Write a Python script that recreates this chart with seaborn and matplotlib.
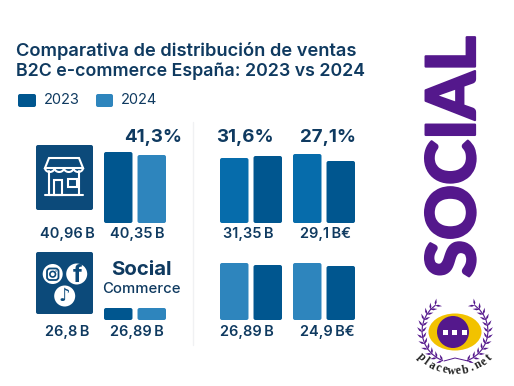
import numpy as np
import pandas as pd
import seaborn as sns
import matplotlib
matplotlib.use('Agg')
import matplotlib.pyplot as plt
import matplotlib.patheffects as pe
from matplotlib.patches import FancyBboxPatch, Rectangle, Circle, Ellipse, Polygon

sns.set_theme(style='white')
plt.rcParams['font.family'] = ['Inter', 'Liberation Sans', 'DejaVu Sans']

W, H = 514, 386

title_lines = ['Comparativa de distribución de ventas', 'B2C e-commerce España: 2023 vs 2024']
years = ['2023', '2024']

# bar heights (the bars are not to scale with their labels)
tienda = [71, 68]
social_mini = [12, 12]
panel_a = [65, 67]
panel_b = [69, 62]
panel_c = [57, 55]
panel_d = [57, 54]

pct_labels = ['41,3%', '31,6%', '27,1%']
top_labels = ['40,96\u2009B', '40,35\u2009B', '31,35\u2009B', '29,1\u2009B€']
bottom_labels = ['26,8\u2009B', '26,89\u2009B', '26,89\u2009B', '24,9\u2009B€']

DARK = '#00568f'
LIGHT = '#2e85bd'
MID = '#066cab'
NAVY = '#0f3a60'
BOX = '#0c4a7a'
PURPLE = '#54188c'
YELLOW = '#f2c200'

fig = plt.figure(figsize=(W / 100, H / 100), dpi=100, facecolor='white')


def draw_group(vals, left, bottom, colors):
    # axes is 62 px wide and 100 px tall, one y unit = one pixel
    ax = fig.add_axes([left / W, 1 - bottom / H, 62 / W, 100 / H])
    df = pd.DataFrame({'anio': years, 'valor': vals})
    sns.barplot(data=df, x='anio', y='valor', hue='anio', palette=colors, legend=False,
                width=0.85, saturation=1, ax=ax)
    ax.set_xlim(-0.425, 1.425)
    ax.set_ylim(0, 100)
    ax.axis('off')
    ax.patch.set_alpha(0)
    for bar in list(ax.patches):
        x, w, h = bar.get_x(), bar.get_width(), bar.get_height()
        round_bar = FancyBboxPatch((x, 0), w, h, boxstyle='round,pad=0,rounding_size=0.06',
                                   mutation_aspect=33.5, fc=bar.get_facecolor(), ec='none')
        bar.remove()
        ax.add_patch(round_bar)


draw_group(tienda, 104, 223, [DARK, LIGHT])
draw_group(social_mini, 104, 320, [DARK, LIGHT])
draw_group(panel_a, 220, 223, [MID, DARK])
draw_group(panel_b, 293, 223, [MID, DARK])
draw_group(panel_c, 220, 320, [LIGHT, DARK])
draw_group(panel_d, 293, 320, [LIGHT, DARK])

# pixel overlay for text, icons and logo
ov = fig.add_axes([0, 0, 1, 1], zorder=5)
ov.set_xlim(0, W)
ov.set_ylim(H, 0)
ov.axis('off')
ov.patch.set_alpha(0)

ov.text(16, 51, title_lines[0], fontsize=13.2, fontweight='semibold', color=NAVY, va='center')
ov.text(16, 71.5, title_lines[1], fontsize=12.8, fontweight='semibold', color=NAVY, va='center')

# legend
ov.add_patch(FancyBboxPatch((18, 94), 18, 13, boxstyle='round,pad=0,rounding_size=2', fc=DARK, ec='none'))
ov.add_patch(FancyBboxPatch((96, 94), 17, 13, boxstyle='round,pad=0,rounding_size=2', fc=LIGHT, ec='none'))
ov.text(44, 100.5, years[0], fontsize=10.5, color=NAVY, va='center')
ov.text(121, 100.5, years[1], fontsize=10.5, color=NAVY, va='center')

# separator
ov.plot([193, 193], [122, 345], color='#f0f1f3', lw=1)

# labels
for x, s in zip([153, 245, 328], pct_labels):
    ov.text(x, 138, s, fontsize=13.5, fontweight='bold', color=NAVY, ha='center', va='center')
for x, s in zip([67, 137, 248, 326], top_labels):
    ov.text(x, 234, s, fontsize=10.5, fontweight='semibold', color=NAVY, ha='center', va='center')
for x, s in zip([67, 137, 247, 327], bottom_labels):
    ov.text(x, 332, s, fontsize=10.5, fontweight='semibold', color=NAVY, ha='center', va='center')
ov.text(141, 270, 'Social', fontsize=14.7, fontweight='bold', color=NAVY, ha='center', va='center')
ov.text(141, 289, 'Commerce', fontsize=10.7, fontweight='medium', color=NAVY, ha='center', va='center')

# shop icon
ov.add_patch(FancyBboxPatch((36, 145), 57, 65, boxstyle='round,pad=0,rounding_size=2', fc=BOX, ec='none'))
lw = 1.5
ov.add_patch(Polygon([(49, 158), (79, 158), (83, 168), (45, 168)], closed=True, fc='none', ec='white', lw=lw))
for x0 in [45, 54.5, 64, 73.5]:
    t = np.linspace(0, np.pi, 12)
    ov.plot(x0 + 4.75 + 4.75 * np.cos(t), 168 + 4 * np.sin(t), color='white', lw=lw)
ov.plot([49, 49, 79, 79], [171, 195, 195, 171], color='white', lw=lw)
ov.plot([45, 83], [195, 195], color='white', lw=lw)
ov.add_patch(Rectangle((54, 180), 8, 15, fc='none', ec='white', lw=lw))
ov.add_patch(Rectangle((68, 179), 9, 8, fc='none', ec='white', lw=lw))

# social icon
ov.add_patch(FancyBboxPatch((36, 252), 57, 62, boxstyle='round,pad=0,rounding_size=2', fc=BOX, ec='none'))
for cx, cy, r in [(52.7, 274, 10), (76.7, 274, 10.5), (64.7, 296, 10.5)]:
    ov.add_patch(Circle((cx, cy), r, fc='white', ec='none'))
ov.add_patch(FancyBboxPatch((47, 268.5), 11.5, 11.5, boxstyle='round,pad=0,rounding_size=3', fc='none', ec=BOX, lw=1.3))
ov.add_patch(Circle((52.7, 274.2), 2.8, fc='none', ec=BOX, lw=1.2))
ov.add_patch(Circle((56, 271), 0.7, fc=BOX, ec='none'))
ov.text(77, 276, 'f', fontsize=17, fontweight='bold', color=BOX, ha='center', va='center')
ov.text(64.7, 296, '♪', fontsize=13, fontweight='bold', color=BOX, ha='center', va='center',
        family=['DejaVu Sans'])

# side word
ov.text(455.5, 157, 'SOCIAL', fontsize=49, fontweight='black', color=PURPLE, rotation=90,
        ha='center', va='center', family=['Lato', 'DejaVu Sans'],
        path_effects=[pe.withStroke(linewidth=1.6, foreground=PURPLE)])

# logo
ov.add_patch(Ellipse((455, 332), 53, 37, fc=YELLOW, ec='none'))
ov.add_patch(Circle((453, 332), 16, fc=PURPLE, ec='none'))
for x in [445, 454.5, 464]:
    ov.add_patch(Rectangle((x - 2.5, 329.5), 5, 5, fc='white', ec='none'))
for side in [-1, 1]:
    angs = np.deg2rad(np.arange(68, -64, -11))
    xs = 455 + side * 33 * np.cos(angs)
    ys = 331 + 32 * np.sin(angs)
    ov.plot(xs, ys, color=PURPLE, lw=0.8)
    for a, x, y in zip(angs, xs, ys):
        tang = np.arctan2(-np.cos(a), side * np.sin(a))
        for off in [-0.75, 0.75]:
            d = tang + off
            ux, uy = np.cos(d), np.sin(d)
            nx, ny = -uy, ux
            ov.add_patch(Polygon([(x, y), (x + 3 * ux + 1 * nx, y + 3 * uy + 1 * ny),
                                  (x + 7 * ux, y + 7 * uy), (x + 3 * ux - 1 * nx, y + 3 * uy - 1 * ny)],
                                 closed=True, fc=PURPLE, ec='none'))
ov.plot([444, 455, 468], [361, 358, 361], color=PURPLE, lw=0.7)
word = 'placeweb.net'
for i, ch in enumerate(word):
    a = np.deg2rad(np.linspace(-44, 44, len(word))[i])
    ov.text(455 + 49 * np.sin(a), 322 + 49 * np.cos(a), ch, fontsize=8.5, fontweight='bold',
            family=['Liberation Serif'], color='#222222', rotation=np.rad2deg(a),
            ha='center', va='center')

fig.savefig('out.png', dpi=100)
